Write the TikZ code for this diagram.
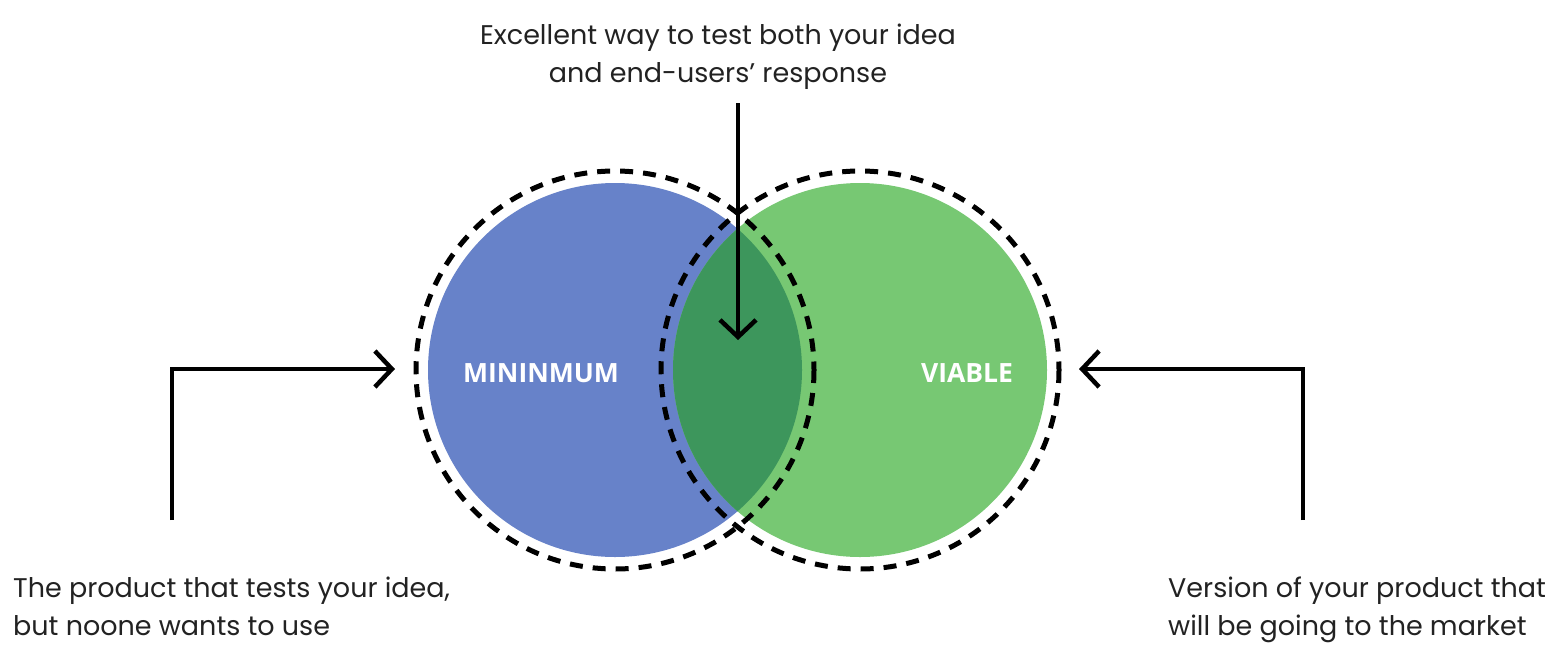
\documentclass[tikz,border=0pt]{standalone}
\usepackage{fontspec}
\setmainfont{Poppins}
\newfontfamily\labelfont{Open Sans}
\usetikzlibrary{arrows.meta}
\definecolor{mvpblue}{HTML}{6782C9}
\definecolor{mvpgreen}{HTML}{77C873}
\definecolor{mvplens}{HTML}{3D965C}
\definecolor{txt}{HTML}{222222}
\tikzset{
  dashring/.style={draw=black, line width=5pt, dash pattern=on 13pt off 10pt},
  conn/.style={draw=black, line width=4.5pt, -{Straight Barb[length=17pt,width=36pt,line join=miter]}},
  note/.style={inner sep=0pt, text=txt, font=\fontsize{27}{38}\selectfont},
  circlabel/.style={text=white, font=\labelfont\bfseries\fontsize{26.5}{30}\selectfont},
}
\begin{document}
\begin{tikzpicture}[x=1pt,y=-1pt]
\useasboundingbox (0,0) rectangle (1560,665);
% fills
\fill[mvpblue] (615,370) circle (187);
\fill[mvpgreen] (860,370) circle (187);
\begin{scope}
  \clip (615,370) circle (187);
  \fill[mvplens] (860,370) circle (187);
\end{scope}
% dashed rings
\draw[dashring] (615,370) circle (199);
\draw[dashring] (860,370) circle (199);
% labels
\node[circlabel] (mini) at (541,373) {MININMUM};
\node[circlabel] (viab) at (967,373) {VIABLE};
% texts (base anchor = baseline of last line)
\node[note, align=center, anchor=base] (top) at (718,82) {Excellent way to test both your idea\\and end-users’ response};
\node[note, align=left, anchor=base west] (left) at (13,635) {The product that tests your idea,\\but noone wants to use};
\node[note, align=left, anchor=base west] (right) at (1168,635) {Version of your product that\\will be going to the market};
% connector coordinates
\coordinate (topstart) at (738,103);
\coordinate (toptip) at (738,340);
\coordinate (lstart) at (172,520);
\coordinate (ltip) at (395,369);
\coordinate (rstart) at (1303,520);
\coordinate (rtip) at (1079,369);
\draw[conn] (topstart) -- (toptip);
\draw[conn] (lstart) |- (ltip);
\draw[conn] (rstart) |- (rtip);
\end{tikzpicture}
\end{document}
